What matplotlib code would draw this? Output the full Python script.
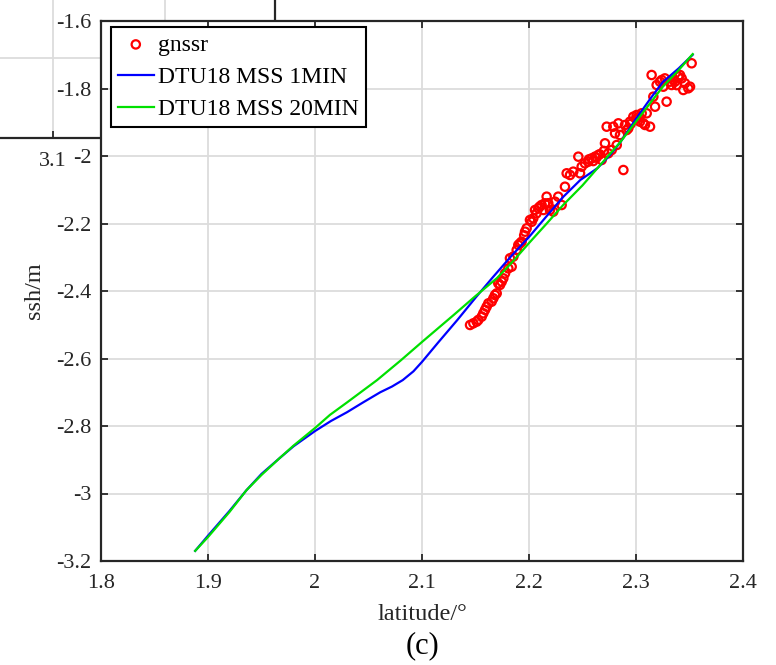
import matplotlib
matplotlib.use("Agg")
import matplotlib.pyplot as plt

plt.rcParams['font.family'] = ['Liberation Serif', 'DejaVu Serif']
plt.rcParams['axes.unicode_minus'] = False

# gnssr points (latitude, ssh)
gnssr_lat = [2.1449, 2.1480, 2.1511, 2.1526, 2.1558, 2.1573, 2.1589, 2.1604, 2.1620, 2.1651,
             2.1667, 2.1682, 2.1698, 2.1713, 2.1729, 2.1745, 2.1760, 2.1776, 2.1807, 2.1838,
             2.1822, 2.1854, 2.1885, 2.1900, 2.1931, 2.1916, 2.1963, 2.1978, 2.2009, 2.2040,
             2.2056, 2.2087, 2.2118, 2.2165, 2.2149, 2.2196, 2.2227, 2.2243, 2.2273, 2.2305,
             2.2336, 2.2352, 2.2383, 2.2414, 2.2477, 2.2461, 2.2492, 2.2523, 2.2554, 2.2586,
             2.2617, 2.2648, 2.2679, 2.2710, 2.2741, 2.2773, 2.2804, 2.2850, 2.2882, 2.2913,
             2.2788, 2.2835, 2.2897, 2.2928, 2.2944, 2.2975, 2.3006, 2.3037, 2.3053, 2.3069,
             2.3100, 2.3131, 2.3084, 2.3146, 2.3162, 2.3178, 2.3193, 2.3224, 2.3240, 2.3270,
             2.3286, 2.3255, 2.3318, 2.3333, 2.3364, 2.3395, 2.3411, 2.3427, 2.3442, 2.3458,
             2.3489, 2.3505, 2.3520, 2.2726, 2.2820,
             2.1955, 2.2025, 2.2070, 2.2100, 2.2135, 2.2180, 2.2560, 2.2600, 2.2630, 2.2660,
             2.2700, 2.2950, 2.3000, 2.3030, 2.3350, 2.3380]
gnssr_ssh = [-2.5007, -2.4957, -2.4908, -2.4859, -2.4760, -2.4660, -2.4560, -2.4465, -2.4366, -2.4316,
             -2.4217, -2.4120, -2.4070, -2.3773, -2.3820, -2.3724, -2.3625, -2.3477, -2.3330, -2.3280,
             -2.3030, -2.2980, -2.2785, -2.2637, -2.2540, -2.2587, -2.2242, -2.2143, -2.1896, -2.1847,
             -2.1600, -2.1550, -2.1452, -2.1205, -2.1403, -2.1600, -2.1650, -2.1354, -2.1205, -2.1452,
             -2.0910, -2.0513, -2.0563, -2.0464, -2.0513, -2.0020, -2.0316, -2.0217, -2.0168, -2.0069,
             -2.0020, -1.9970, -2.0118, -1.9624, -1.9920, -1.9822, -1.9328, -1.9378, -2.0415, -1.9230,
             -1.9131, -1.9032, -1.9081, -1.9180, -1.8983, -1.8835, -1.8785, -1.8983, -1.8735, -1.9032,
             -1.8735, -1.9131, -1.9081, -1.7600, -1.8242, -1.8539, -1.7896, -1.7798, -1.7748, -1.7700,
             -1.8390, -1.7946, -1.7798, -1.7896, -1.7798, -1.7650, -1.7600, -1.7700, -1.8044, -1.7846,
             -1.7994, -1.7946, -1.7253, -1.9131, -1.9674,
             -2.2350, -2.1950, -2.1700, -2.1500, -2.1600, -2.1400, -2.0100, -2.0150, -2.0050, -1.9950,
             -1.9850, -1.9050, -1.8900, -1.8850, -1.7750, -1.7900]

# DTU18 MSS 1MIN
mss1_lat = [1.888, 1.900, 1.920, 1.936, 1.950, 1.967, 1.980, 2.000, 2.015, 2.030,
            2.045, 2.061, 2.072, 2.082, 2.092, 2.100, 2.115, 2.133, 2.150, 2.166,
            2.183, 2.200, 2.216, 2.232, 2.248, 2.264, 2.275, 2.285, 2.300, 2.313,
            2.325, 2.340, 2.353]
mss1_ssh = [-3.170, -3.125, -3.052, -2.990, -2.942, -2.895, -2.860, -2.815, -2.785, -2.759,
            -2.730, -2.700, -2.683, -2.664, -2.638, -2.610, -2.553, -2.486, -2.420, -2.360,
            -2.298, -2.240, -2.180, -2.121, -2.071, -2.036, -2.000, -1.961, -1.890, -1.832,
            -1.781, -1.740, -1.700]

# DTU18 MSS 20MIN
mss20_lat = [1.888, 1.900, 1.920, 1.936, 1.950, 1.967, 1.980, 2.000, 2.014, 2.030,
             2.058, 2.080, 2.100, 2.130, 2.150, 2.170, 2.185, 2.200, 2.216, 2.232,
             2.250, 2.264, 2.285, 2.300, 2.325, 2.340, 2.353]
mss20_ssh = [-3.170, -3.129, -3.055, -2.990, -2.945, -2.895, -2.858, -2.806, -2.767, -2.730,
             -2.664, -2.606, -2.551, -2.470, -2.415, -2.362, -2.312, -2.258, -2.202, -2.145,
             -2.087, -2.036, -1.960, -1.898, -1.795, -1.745, -1.698]

xticks = [1.8, 1.9, 2.0, 2.1, 2.2, 2.3, 2.4]
xtick_labels = ['1.8', '1.9', '2', '2.1', '2.2', '2.3', '2.4']
yticks = [-3.2, -3.0, -2.8, -2.6, -2.4, -2.2, -2.0, -1.8, -1.6]
ytick_labels = ['-3.2', '-3', '-2.8', '-2.6', '-2.4', '-2.2', '-2', '-1.8', '-1.6']

W, H = 776, 665
fig = plt.figure(figsize=(W / 100, H / 100), dpi=100)
spine_c = '#262626'
grid_c = '#dcdcdc'

# bit of the neighbouring panel that shows at the top left
bg = fig.add_axes([-20 / W, 1 - 138 / H, 295 / W, 158 / H])
bg.set_xlim(3.1 - 73 / 1120, 3.1 + 222 / 1120)
bg.set_ylim(0, 158)
bg.set_xticks([3.1, 3.2])
bg.set_xticklabels(['3.1', '3.2'])
bg.set_yticks([80])
bg.set_yticklabels([''])
bg.grid(True, color=grid_c, lw=1.3)
bg.tick_params(direction='in', length=5, width=1.3, colors=spine_c, labelsize=16,
               pad=10, left=False)
for s in bg.spines.values():
    s.set_color(spine_c)
    s.set_linewidth(1.6)

ax = fig.add_axes([101 / W, 1 - 561 / H, 642 / W, 540 / H])
ax.scatter(gnssr_lat, gnssr_ssh, s=36, facecolors='none', edgecolors='#ff0000',
           linewidths=1.6, label='gnssr', zorder=3)
ax.plot(mss1_lat, mss1_ssh, color='#0000ff', lw=1.6, label='DTU18 MSS 1MIN', zorder=4)
ax.plot(mss20_lat, mss20_ssh, color='#00e000', lw=1.6, label='DTU18 MSS 20MIN', zorder=5)

ax.set_xlim(1.8, 2.4)
ax.set_ylim(-3.2, -1.6)
ax.set_xticks(xticks)
ax.set_xticklabels(xtick_labels)
ax.set_yticks(yticks)
ax.set_yticklabels(ytick_labels)
ax.grid(True, color=grid_c, lw=1.3)
ax.set_axisbelow(True)
ax.tick_params(direction='in', length=5, width=1.3, colors=spine_c, labelsize=16,
               top=True, right=True, pad=9)
ax.tick_params(axis='y', pad=7)
for s in ax.spines.values():
    s.set_color(spine_c)
    s.set_linewidth(1.6)

ax.set_xlabel('latitude/°', fontsize=17.5, color='#262626', labelpad=8)
ax.set_ylabel('ssh/m', fontsize=17.5, color='#262626', labelpad=8)

leg = ax.legend(loc='upper left', bbox_to_anchor=(10 / 642, 1 - 6 / 540), fontsize=17,
                frameon=True, fancybox=False, edgecolor='black', borderpad=0.3,
                handlelength=1.5, handletextpad=0.2, borderaxespad=0, labelspacing=0.45)
leg.get_frame().set_linewidth(1.5)
leg.get_frame().set_alpha(1)

fig.text(423 / W, 1 - 646 / H, '(c)', fontsize=22, ha='center', va='center', color='black')

fig.savefig('out.png', dpi=100)
